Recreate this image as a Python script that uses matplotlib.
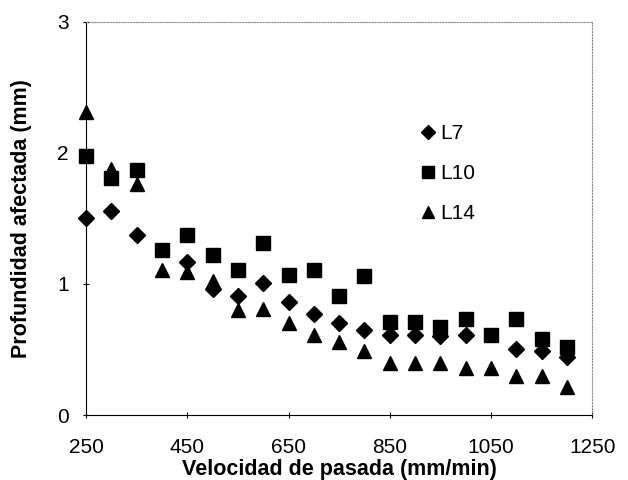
import matplotlib
matplotlib.use("Agg")
import matplotlib.pyplot as plt

plt.rcParams['font.family'] = ['Liberation Sans', 'DejaVu Sans']

# velocidad de pasada (mm/min) y profundidad afectada (mm)
v_l7 = [250, 300, 350, 450, 500, 550, 600, 650, 700, 750, 800, 850, 900, 950, 1000, 1100, 1150, 1200]
p_l7 = [1.50, 1.56, 1.37, 1.17, 0.96, 0.91, 1.01, 0.86, 0.77, 0.70, 0.65, 0.61, 0.61, 0.60, 0.61, 0.50, 0.49, 0.44]

v_l10 = [250, 300, 350, 400, 450, 500, 550, 600, 650, 700, 750, 800, 850, 900, 950, 1000, 1050, 1100, 1150, 1200]
p_l10 = [1.98, 1.81, 1.87, 1.26, 1.37, 1.22, 1.11, 1.31, 1.07, 1.11, 0.91, 1.06, 0.71, 0.71, 0.67, 0.73, 0.61, 0.73, 0.58, 0.52]

v_l14 = [250, 300, 350, 400, 450, 500, 550, 600, 650, 700, 750, 800, 850, 900, 950, 1000, 1050, 1100, 1150, 1200]
p_l14 = [2.31, 1.88, 1.76, 1.11, 1.09, 1.02, 0.80, 0.81, 0.70, 0.61, 0.56, 0.49, 0.40, 0.40, 0.40, 0.36, 0.36, 0.30, 0.30, 0.21]

x_ticks = [250, 450, 650, 850, 1050, 1250]
y_ticks = [0, 1, 2, 3]

fig = plt.figure(figsize=(6.28, 4.8), dpi=100)
ax = fig.add_axes([0.137, 0.1354, 0.806, 0.819])

ax.plot(v_l14, p_l14, linestyle='none', marker='^', color='black', markersize=10,
        label='L14', zorder=3, clip_on=False)
ax.plot(v_l7, p_l7, linestyle='none', marker='D', color='black', markersize=8,
        label='L7', zorder=4, clip_on=False)
ax.plot(v_l10, p_l10, linestyle='none', marker='s', color='black', markersize=10,
        label='L10', zorder=5, clip_on=False)

ax.set_xlim(250, 1250)
ax.set_ylim(0, 3)
ax.set_xticks(x_ticks)
ax.set_yticks(y_ticks)
ax.tick_params(axis='both', labelsize=15, direction='inout', length=5, width=0.8)
ax.tick_params(axis='x', pad=14)
ax.tick_params(axis='y', pad=10)

for side in ['top', 'right']:
    ax.spines[side].set_linestyle(':')
    ax.spines[side].set_color('#888888')
for side in ['left', 'bottom']:
    ax.spines[side].set_color('black')

ax.set_xlabel('Velocidad de pasada (mm/min)', fontsize=15.5, fontweight='bold', va='baseline')
ax.set_ylabel('Profundidad afectada (mm)', fontsize=15.5, fontweight='bold')
ax.xaxis.set_label_coords(0.5, -0.152)
ax.yaxis.set_label_coords(-0.107, 0.5)

handles, labels = ax.get_legend_handles_labels()
order = [1, 2, 0]
ax.legend([handles[i] for i in order], [labels[i] for i in order],
          loc='upper left', bbox_to_anchor=(0.617, 0.787), frameon=False,
          fontsize=15, handletextpad=0.1, handlelength=1.0, labelspacing=1.0,
          markerscale=0.85)

fig.savefig('out.png', dpi=100)
